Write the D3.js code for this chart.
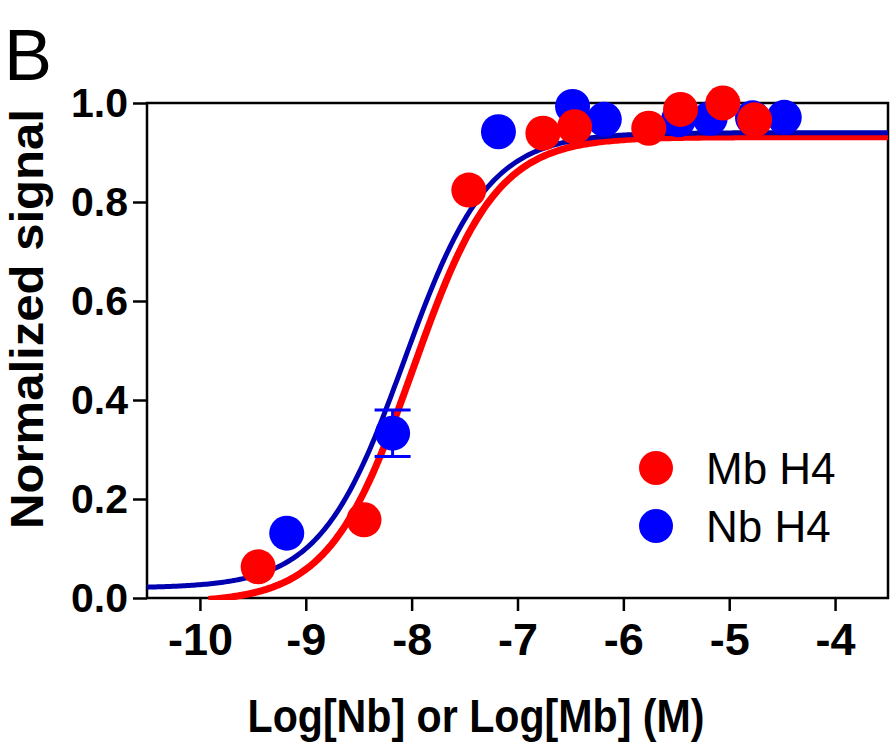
<!DOCTYPE html>
<html>
<head>
<meta charset="utf-8">
<script src="https://cdn.jsdelivr.net/npm/d3@7"></script>
<style>
  body { margin: 0; background: #fff; }
  svg { display: block; font-family: "Liberation Sans", Arial, sans-serif; }
</style>
</head>
<body>
<svg id="chart"></svg>
<script>
// data
const mbX = [-9.45, -8.45, -7.46, -6.76, -6.46, -5.76, -5.46, -5.06, -4.76];
const mbY = [0.063, 0.158, 0.824, 0.939, 0.952, 0.949, 0.987, 1.0, 0.966];
const nbX = [-9.18, -8.18, -7.18, -6.48, -6.18, -5.48, -5.18, -4.78, -4.48];
const nbY = [0.131, 0.333, 0.942, 0.993, 0.967, 0.966, 0.969, 0.970, 0.971];
const nbErr = [0, 0.047, 0, 0, 0, 0, 0, 0, 0];

// 4PL fit parameters: bottom, top, logEC50, hill
const mbFit = [-0.01, 0.932, -7.99, 1.1];
const nbFit = [0.02, 0.94, -8.07, 1.1];

const xTicks = [-10, -9, -8, -7, -6, -5, -4];
const yTicks = [0, 0.2, 0.4, 0.6, 0.8, 1.0];
const seriesNames = ["Mb H4", "Nb H4"];

const W = 896, H = 748;
const margin = { top: 103, right: 8, bottom: 150, left: 147 };
const width = W - margin.left - margin.right;
const height = H - margin.top - margin.bottom;

const svg = d3.select("#chart")
    .attr("width", W)
    .attr("height", H);

const g = svg.append("g")
    .attr("transform", `translate(${margin.left},${margin.top})`);

const x = d3.scaleLinear()
    .domain([-10.5, -3.5])
    .range([0, width]);

const y = d3.scaleLinear()
    .domain([0, 1])
    .range([height, 0]);

svg.append("defs").append("clipPath")
    .attr("id", "plot-clip")
  .append("rect")
    .attr("width", width)
    .attr("height", height + 2);

// axes
const xAxis = g.append("g")
    .attr("transform", `translate(0,${height})`)
    .call(d3.axisBottom(x).tickValues(xTicks).tickSize(13).tickPadding(12).tickFormat(d => String(d)));

const yAxis = g.append("g")
    .call(d3.axisLeft(y).tickValues(yTicks).tickSize(14).tickPadding(5).tickFormat(d3.format(".1f")));

[xAxis, yAxis].forEach(a => {
  a.select(".domain").remove();
  a.selectAll(".tick line").attr("stroke", "#000").attr("stroke-width", 2.5);
  a.selectAll(".tick text")
      .attr("fill", "#000")
      .attr("font-weight", "bold")
      .attr("font-family", "Liberation Sans, Arial, sans-serif");
});
xAxis.selectAll(".tick text").attr("font-size", 45).attr("dy", "0.72em");
yAxis.selectAll(".tick text").attr("font-size", 41);

// plot box
g.append("rect")
    .attr("width", width)
    .attr("height", height)
    .attr("fill", "none")
    .attr("stroke", "#000")
    .attr("stroke-width", 2.5);

// fitted curves
function logistic(p) {
  return v => p[0] + (p[1] - p[0]) / (1 + Math.pow(10, (p[2] - v) * p[3]));
}
const xs = d3.range(-10.5, -3.49, 0.02);
const line = d3.line()
    .x(d => x(d[0]))
    .y(d => y(d[1]));

const curves = g.append("g").attr("clip-path", "url(#plot-clip)");
const fm = logistic(mbFit), fn = logistic(nbFit);
curves.append("path")
    .datum(xs.map(v => [v, fm(v)]).filter(d => d[1] >= -0.003))
    .attr("fill", "none")
    .attr("stroke", "#ff0000")
    .attr("stroke-width", 7)
    .attr("d", line);
curves.append("path")
    .datum(xs.map(v => [v, fn(v)]))
    .attr("fill", "none")
    .attr("stroke", "#0000b0")
    .attr("stroke-width", 5)
    .attr("d", line);

// error bars (Nb)
const nbData = nbX.map((v, i) => ({ x: v, y: nbY[i], e: nbErr[i] }));
const err = g.append("g").attr("stroke", "#0000ff").attr("stroke-width", 3);
nbData.filter(d => d.e > 0).forEach(d => {
  err.append("line")
      .attr("x1", x(d.x)).attr("x2", x(d.x))
      .attr("y1", y(d.y - d.e)).attr("y2", y(d.y + d.e));
  [d.y - d.e, d.y + d.e].forEach(v => {
    err.append("line")
        .attr("x1", x(d.x) - 18).attr("x2", x(d.x) + 18)
        .attr("y1", y(v)).attr("y2", y(v));
  });
});

// points
g.append("g").selectAll("circle")
    .data(nbData)
  .enter().append("circle")
    .attr("cx", d => x(d.x))
    .attr("cy", d => y(d.y))
    .attr("r", 17.5)
    .attr("fill", "#0000ff");

g.append("g").selectAll("circle")
    .data(mbX.map((v, i) => ({ x: v, y: mbY[i] })))
  .enter().append("circle")
    .attr("cx", d => x(d.x))
    .attr("cy", d => y(d.y))
    .attr("r", 17.5)
    .attr("fill", "#ff0000");

// legend
const legend = svg.append("g");
const legendColors = ["#ff0000", "#0000ff"];
seriesNames.forEach((name, i) => {
  const ly = 468 + i * 58;
  legend.append("circle")
      .attr("cx", 656).attr("cy", ly).attr("r", 17)
      .attr("fill", legendColors[i]);
  legend.append("text")
      .attr("x", 706).attr("y", ly + 16)
      .attr("font-size", 44)
      .attr("fill", "#000")
      .text(name);
});

// titles
svg.append("text")
    .attr("x", 476).attr("y", 732)
    .attr("text-anchor", "middle")
    .attr("font-size", 46)
    .attr("font-weight", "bold")
    .attr("textLength", 457)
    .attr("lengthAdjust", "spacingAndGlyphs")
    .text("Log[Nb] or Log[Mb] (M)");

svg.append("text")
    .attr("transform", "translate(43,319) rotate(-90)")
    .attr("text-anchor", "middle")
    .attr("font-size", 46)
    .attr("font-weight", "bold")
    .attr("textLength", 420)
    .attr("lengthAdjust", "spacingAndGlyphs")
    .text("Normalized signal");

svg.append("text")
    .attr("x", 4).attr("y", 80)
    .attr("font-size", 72)
    .text("B");
</script>
</body>
</html>
